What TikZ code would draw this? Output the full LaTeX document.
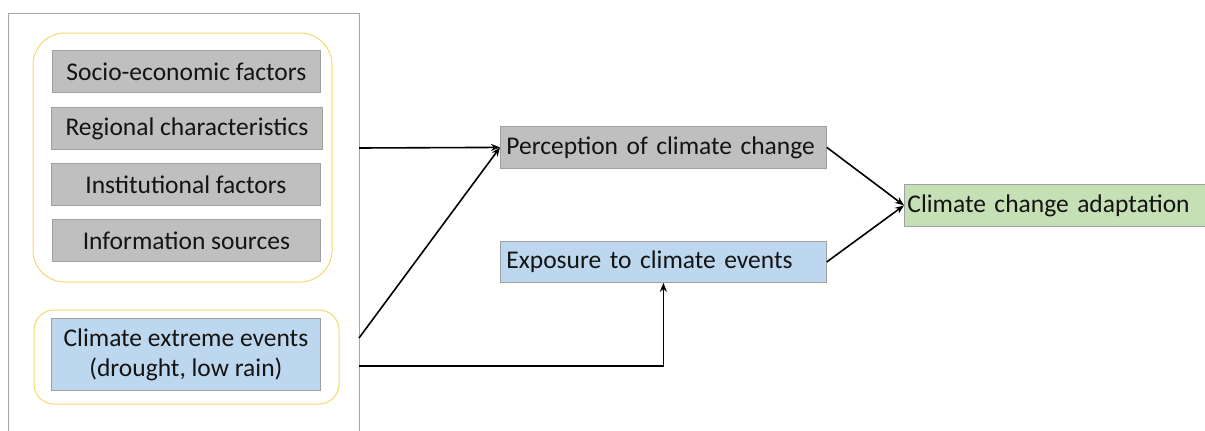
\documentclass[tikz,border=0pt]{standalone}
\usepackage{fontspec}
\setmainfont{Carlito}
\usetikzlibrary{arrows.meta}
\definecolor{gfill}{HTML}{BFBFBF}
\definecolor{gline}{HTML}{A0A0A0}
\definecolor{bfill}{HTML}{BDD7EE}
\definecolor{gnfill}{HTML}{C5E0B4}
\definecolor{yline}{HTML}{F5D76E}
\definecolor{frame}{HTML}{A6A6A6}
\tikzset{
  box/.style={draw=gline, line width=0.8pt, anchor=north west, inner sep=0pt,
    font=\fontsize{25.5}{30}\selectfont, text=black!92},
  graybox/.style={box, fill=gfill},
  bluebox/.style={box, fill=bfill},
  greenbox/.style={box, fill=gnfill},
  group/.style={draw=yline, line width=1pt},
  conn/.style={line width=1.6pt, -{Stealth[length=9pt,width=7pt]}},
}
\begin{document}
\begin{tikzpicture}[x=1pt,y=-1pt]
\useasboundingbox (0,0) rectangle (1205,431);
% outer frame
\draw[frame, line width=0.8pt] (8,440) -- (8,13) -- (359,13) -- (359,440);
% yellow groups
\draw[group, rounded corners=32pt] (33,33) rectangle (332,282);
\draw[group, rounded corners=20pt] (34,310) rectangle (339,404);
% factor boxes
\node[graybox, minimum width=268pt, minimum height=42pt] (soc) at (52,50) {Socio-economic factors};
\node[graybox, minimum width=271pt, minimum height=42pt] (reg) at (51,107) {Regional characteristics};
\node[graybox, minimum width=269pt, minimum height=42pt] (ins) at (51,163) {Institutional factors};
\node[graybox, minimum width=268pt, minimum height=42pt] (inf) at (52,219) {Information sources};
\node[bluebox, minimum width=269pt, minimum height=72pt, align=center] (ext) at (51,318) {Climate extreme events\\(drought, low rain)};
% middle boxes
\node[graybox, minimum width=326pt, minimum height=42pt, text width=314pt, align=left] (per) at (500,126) {Perception of climate change};
\node[bluebox, minimum width=326pt, minimum height=41pt, text width=314pt, align=left] (exp) at (500,241) {Exposure to climate events};
\node[greenbox, minimum width=305pt, minimum height=42pt, text width=299pt, align=left] (ada) at (904,184) {Climate change adaptation};
% frame exit points
\coordinate (f1) at (359,148);
\coordinate (f2) at (359,338);
\coordinate (f3) at (359,366);
% connectors
\draw[conn] (f1) -- (per.west);
\draw[conn] (f2) -- (per.west);
\draw[conn] (f3) -| (exp.south);
\draw[conn] (per.east) -- (ada.west);
\draw[conn] (exp.east) -- (ada.west);
\end{tikzpicture}
\end{document}
